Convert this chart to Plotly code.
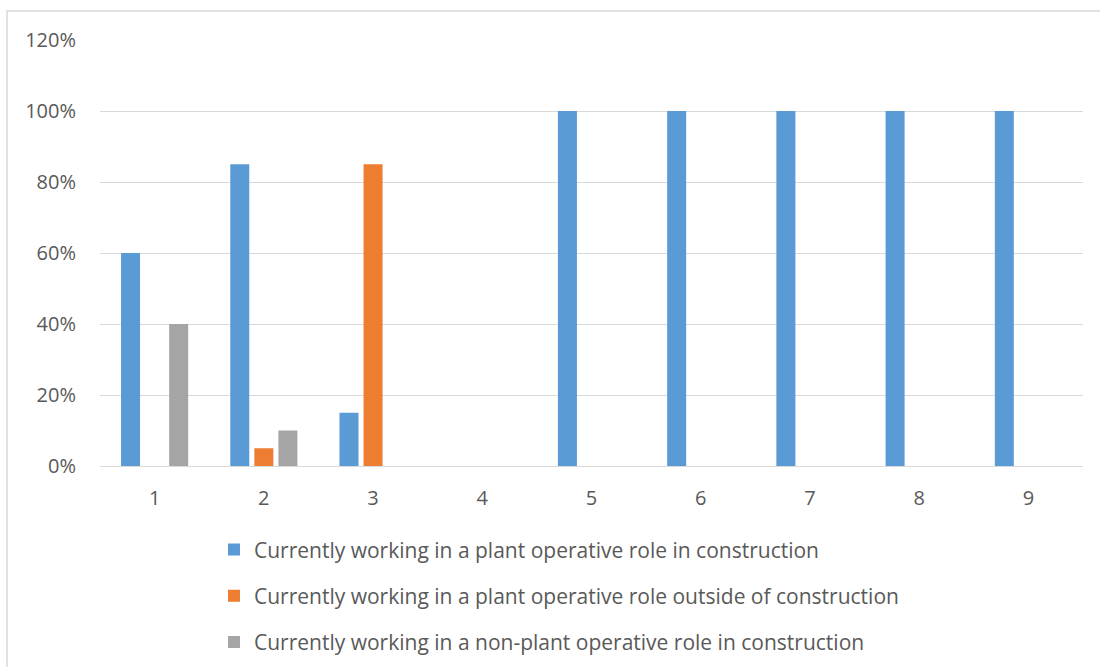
import plotly.graph_objects as go

categories = ["1", "2", "3", "4", "5", "6", "7", "8", "9"]
in_construction = [0.60, 0.85, 0.15, 0, 1.00, 1.00, 1.00, 1.00, 1.00]
outside_construction = [0, 0.05, 0.85, 0, 0, 0, 0, 0, 0]
non_plant_role = [0.40, 0.10, 0, 0, 0, 0, 0, 0, 0]

series_names = [
    "Currently working in a plant operative role in construction",
    "Currently working in a plant operative role outside of construction",
    "Currently working in a non-plant operative role in construction",
]
colors = ["#5B9BD5", "#ED7D31", "#A5A5A5"]
text_color = "#595959"
grid_color = "#D9D9D9"
font_family = "'Open Sans', sans-serif"

W, H = 1100, 667
L, R, T, B = 100, 17, 39.5, 200.5

fig = go.Figure()
for i, (name, vals) in enumerate(zip(series_names, [in_construction, outside_construction, non_plant_role])):
    fig.add_trace(go.Bar(
        x=categories, y=vals, name=name,
        marker=dict(color=colors[i], line=dict(width=0)),
        legendgroup=f"g{i}",
    ))

pw = W - L - R
ph = H - T - B

fig.update_layout(
    width=W, height=H,
    margin=dict(l=L, r=R, t=T, b=B, pad=0, autoexpand=False),
    paper_bgcolor="white", plot_bgcolor="white",
    barmode="group", bargap=0.339, bargroupgap=0.21,
    font=dict(family=font_family, color=text_color, size=20),
    xaxis=dict(
        type="category", showgrid=False, showline=False, zeroline=False,
        ticks="", ticklabelstandoff=18,
        tickfont=dict(size=20, color=text_color),
    ),
    yaxis=dict(
        range=[0, 1.2], tickvals=[0, 0.2, 0.4, 0.6, 0.8, 1.0, 1.2],
        tickformat=".0%", showgrid=True, gridcolor=grid_color, gridwidth=1.3,
        zeroline=True, zerolinecolor=grid_color, zerolinewidth=1.3,
        showline=False, ticks="", ticklabelstandoff=23,
        tickfont=dict(size=20, color=text_color),
    ),
    legend=dict(
        orientation="v", x=(214 - L) / pw, xanchor="left",
        y=-(530 - (H - B)) / ph, yanchor="top",
        font=dict(size=21, color=text_color, family=font_family),
        tracegroupgap=16, bgcolor="rgba(0,0,0,0)",
    ),
    showlegend=True,
    shapes=[dict(
        type="rect", xref="paper", yref="paper",
        x0=(7 - L) / pw, x1=(W + 20 - L) / pw,
        y0=-(H + 20 - (H - B)) / ph, y1=1 + (T - 10.5) / ph,
        line=dict(color=grid_color, width=1.5), fillcolor="rgba(0,0,0,0)",
        layer="below",
    )],
)

fig.write_html("out.html")
